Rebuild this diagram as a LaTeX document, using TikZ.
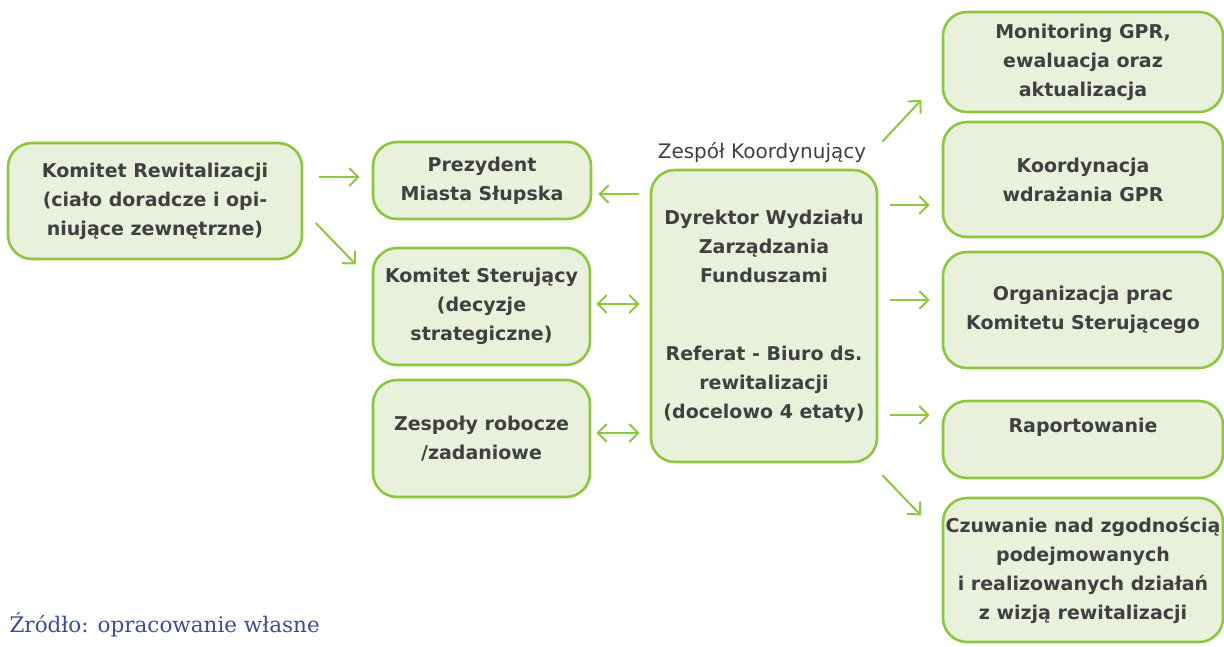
\documentclass[tikz,border=0pt]{standalone}
\usepackage{fontspec}
\setmainfont{DejaVu Sans}
\newfontfamily\srcfont{DejaVu Serif}
\usetikzlibrary{arrows.meta, positioning}
\definecolor{boxgreen}{RGB}{141,198,63}
\definecolor{boxfill}{RGB}{233,240,219}
\definecolor{boxtext}{RGB}{64,64,64}
\definecolor{srcblue}{RGB}{61,74,154}

\begin{document}
\begin{tikzpicture}[
  x=1pt, y=-1pt,
  box/.style={rectangle, rounded corners=24pt, draw=boxgreen, line width=2.6pt,
              fill=boxfill, align=center, text=boxtext, inner sep=0pt,
              font=\fontsize{19}{29}\selectfont\bfseries},
  arr/.style={draw=boxgreen, line width=2pt,
              -{Straight Barb[length=9pt, width=18pt]}},
  biarr/.style={arr, {Straight Barb[length=9pt, width=18pt]}-{Straight Barb[length=9pt, width=18pt]}}
]
\useasboundingbox (0,0) rectangle (1224,646);

% left column
\node[box, minimum width=294pt, minimum height=116pt] (kr) at (155,201)
  {Komitet Rewitalizacji\\(ciało doradcze i opi-\\niujące zewnętrzne)};
\node[box, minimum width=218pt, minimum height=77pt] (prez) at (482,180.5)
  {Prezydent\\Miasta Słupska};
\node[box, minimum width=217pt, minimum height=117pt] (ks) at (481.5,306.5)
  {Komitet Sterujący\\(decyzje\\strategiczne)};
\node[box, minimum width=217pt, minimum height=117pt] (zr) at (481.5,438.5)
  {Zespoły robocze\\/zadaniowe};

% centre
\node[box, minimum width=226pt, minimum height=292pt] (dyr) at (764,316)
  {Dyrektor Wydziału\\Zarządzania\\Funduszami\\[49pt]Referat - Biuro ds.\\rewitalizacji\\(docelowo 4 etaty)};
\node[text=boxtext, font=\fontsize{20}{24}\selectfont] (zk) at (762,153) {Zespół Koordynujący};

% right column
\node[box, minimum width=280pt, minimum height=100pt] (mon) at (1083,62)
  {Monitoring GPR,\\ewaluacja oraz\\aktualizacja};
\node[box, minimum width=280pt, minimum height=115pt] (koord) at (1083,179.5)
  {Koordynacja\\wdrażania GPR};
\node[box, minimum width=280pt, minimum height=116pt] (org) at (1083,310)
  {Organizacja prac\\Komitetu Sterującego};
\node[box, minimum width=280pt, minimum height=77pt] (rap) at (1083,439.5)
  {Raportowanie\\\mbox{}};
\node[box, minimum width=280pt, minimum height=144pt] (czu) at (1083,570)
  {Czuwanie nad zgodnością\\podejmowanych\\i realizowanych działań\\z wizją rewitalizacji};

\node[anchor=west, text=srcblue, font=\srcfont\fontsize{21.5}{25}\selectfont] (src) at (6,625)
  {Źródło: opracowanie własne};

% connectors
\draw[arr, shorten <=16pt, shorten >=12pt] (kr.east |- 0,177) -- (prez.west |- 0,177);
\draw[arr, shorten <=18pt, shorten >=23pt] (kr.east |- 0,210) -- (ks.west |- 0,281);
\draw[arr, shorten <=11pt, shorten >=6pt] (dyr.west |- 0,194) -- (prez.east |- 0,194);
\foreach \t/\y in {ks/304, zr/433}
  \draw[biarr, shorten <=10pt, shorten >=5pt] (dyr.west |- 0,\y) -- (\t.east |- 0,\y);
\foreach \t/\y in {koord/205, org/300, rap/415}
  \draw[arr, shorten <=12pt, shorten >=12pt] (dyr.east |- 0,\y) -- (\t.west |- 0,\y);
\draw[arr, shorten <=6pt, shorten >=30pt] (dyr.east |- 0,146) -- (mon.west |- 0,78);
\draw[arr, shorten <=6pt, shorten >=30pt] (dyr.east |- 0,471) -- (czu.west |- 0,537);
\end{tikzpicture}
\end{document}
